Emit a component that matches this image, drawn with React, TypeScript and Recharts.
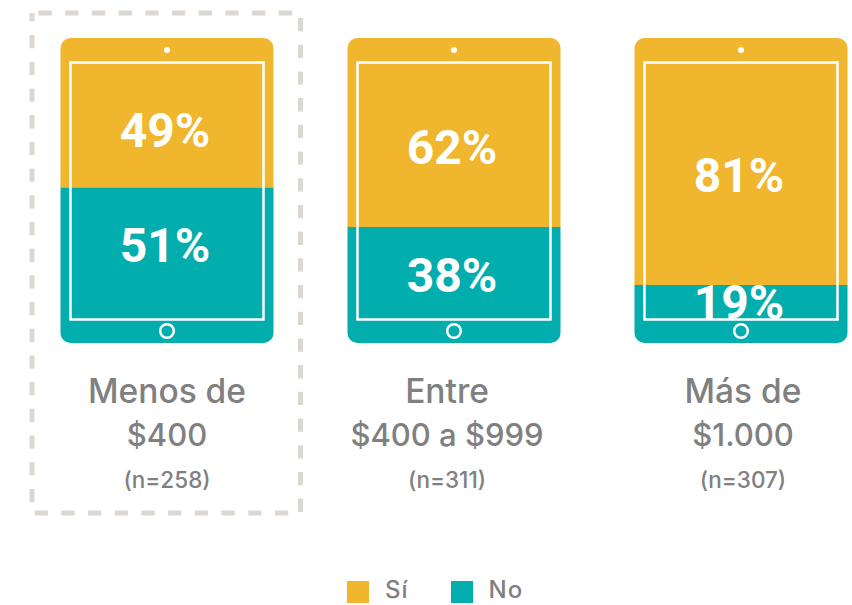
import React from 'react';
import { BarChart, Bar, XAxis, YAxis, Legend, LabelList, Rectangle } from 'recharts';

const categories = ['Menos de $400', 'Entre $400 a $999', 'Más de $1.000'];
const tickFirstLines = ['Menos de', 'Entre', 'Más de'];
const tickSecondLines = ['$400', '$400 a $999', '$1.000'];
const sampleSizes = ['(n=258)', '(n=311)', '(n=307)'];
const siValues = [49, 62, 81];
const noValues = [51, 38, 19];

const data = categories.map((category, i) => ({
  category,
  si: siValues[i],
  no: noValues[i],
}));

const SI_COLOR = '#F0B62D';
const NO_COLOR = '#02ADAE';
const GREY = '#808080';
const FONT = 'Inter, sans-serif';
const VALUE_FONT = 'Roboto, sans-serif';

// the labels don't sit at the middle of their segments in the original
const siLabelNudge = [18, 15, 14];
const noLabelNudge = [-19, -9, -11];
// the captions aren't quite centred under the tablets either
const tickNudge = [0, -7, 2];

// the y axis is reversed, so the bars come with a negative height
const SiShape = (props: any) => {
  const { x, y, width, height } = props;
  return (
    <Rectangle
      x={x}
      y={Math.min(y, y + height)}
      width={width}
      height={Math.abs(height)}
      fill={SI_COLOR}
      radius={[10, 10, 0, 0]}
    />
  );
};

// draws the tablet details on top of both segments, and the dashed box on the first one
const NoShape = (props: any) => {
  const { x, y, width, height, index } = props;
  const segTop = Math.min(y, y + height);
  const segHeight = Math.abs(height);
  const bottom = segTop + segHeight;
  const top = bottom - 305;
  const cx = x + width / 2;
  return (
    <g>
      <Rectangle x={x} y={segTop} width={width} height={segHeight} fill={NO_COLOR} radius={[0, 0, 10, 10]} />
      <rect x={x + 10} y={top + 24.5} width={width - 20} height={257} fill="none" stroke="#fff" strokeWidth={2.5} />
      <circle cx={cx} cy={top + 12} r={3} fill="#fff" />
      <circle cx={cx} cy={bottom - 12} r={6.8} fill="none" stroke="#fff" strokeWidth={2.5} />
      {index === 0 && (
        <rect
          x={x - 28.5}
          y={top - 25}
          width={268.5}
          height={500}
          fill="none"
          stroke="#DDD7D1"
          strokeWidth={5}
          strokeDasharray="13.3 13.4"
          strokeDashoffset={-6.5}
        />
      )}
    </g>
  );
};

const segmentLabel = (nudges: number[], clipped: boolean) => (props: any) => {
  const { x, y, width, height, value, index } = props;
  const clipId = `screen-${index}`;
  const bottom = Math.max(y, y + height);
  return (
    <g>
      {clipped && (
        <clipPath id={clipId}>
          <rect x={x} y={bottom - 305} width={width} height={305 - 23} />
        </clipPath>
      )}
      <text
        x={x + width / 2 - 2}
        y={y + height / 2 + nudges[index]}
        dy={16}
        textAnchor="middle"
        fill="#fff"
        fontFamily={VALUE_FONT}
        fontWeight={700}
        fontSize={48}
        clipPath={clipped ? `url(#${clipId})` : undefined}
      >
        {value}%
      </text>
    </g>
  );
};

const CategoryTick = (props: any) => {
  const { x, y, payload } = props;
  const i = payload.index;
  const tx = x + tickNudge[i];
  return (
    <g fontFamily={FONT} fontWeight={500} fill={GREY} textAnchor="middle">
      <text x={tx} y={y + 52} fontSize={33.5}>{tickFirstLines[i]}</text>
      <text x={tx} y={y + 95} fontSize={31}>{tickSecondLines[i]}</text>
      <text x={tx} y={y + 137} fontSize={22.5}>{sampleSizes[i]}</text>
    </g>
  );
};

const LegendContent = (props: any) => (
  <div style={{ display: 'flex', alignItems: 'center', fontFamily: FONT, fontWeight: 500, color: GREY, fontSize: 24, letterSpacing: 1, lineHeight: '24px' }}>
    {(props.payload || []).map((entry: any, i: number) => (
      <div key={entry.value} style={{ display: 'flex', alignItems: 'center', marginRight: i === 0 ? 42 : 0 }}>
        <span style={{ width: 22, height: 22, background: entry.color, marginRight: 16, display: 'inline-block' }} />
        <span style={{ position: 'relative', top: -2 }}>{entry.value}</span>
      </div>
    ))}
  </div>
);

export default function App() {
  return (
    <div style={{ position: 'absolute', left: 0, top: 0, width: 852, height: 605, overflow: 'hidden', background: '#fff' }}>
      <BarChart
        width={908}
        height={605}
        data={data}
        barSize={213}
        margin={{ top: 38, right: 23.5, bottom: 0, left: 23.5 }}
      >
        <YAxis hide reversed domain={[0, 100]} />
        <XAxis dataKey="category" height={262} axisLine={false} tickLine={false} tick={<CategoryTick />} interval={0} />
        <Legend
          layout="horizontal"
          verticalAlign="middle"
          align="center"
          itemSorter={(item: any) => (item.value === 'Sí' ? 0 : 1)}
          content={<LegendContent />}
          wrapperStyle={{ left: 347, top: 580, width: 300 }}
        />
        <Bar dataKey="si" name="Sí" stackId="a" fill={SI_COLOR} shape={<SiShape />} isAnimationActive={false}>
          <LabelList dataKey="si" content={segmentLabel(siLabelNudge, false)} />
        </Bar>
        <Bar dataKey="no" name="No" stackId="a" fill={NO_COLOR} shape={<NoShape />} isAnimationActive={false}>
          <LabelList dataKey="no" content={segmentLabel(noLabelNudge, true)} />
        </Bar>
      </BarChart>
    </div>
  );
}
